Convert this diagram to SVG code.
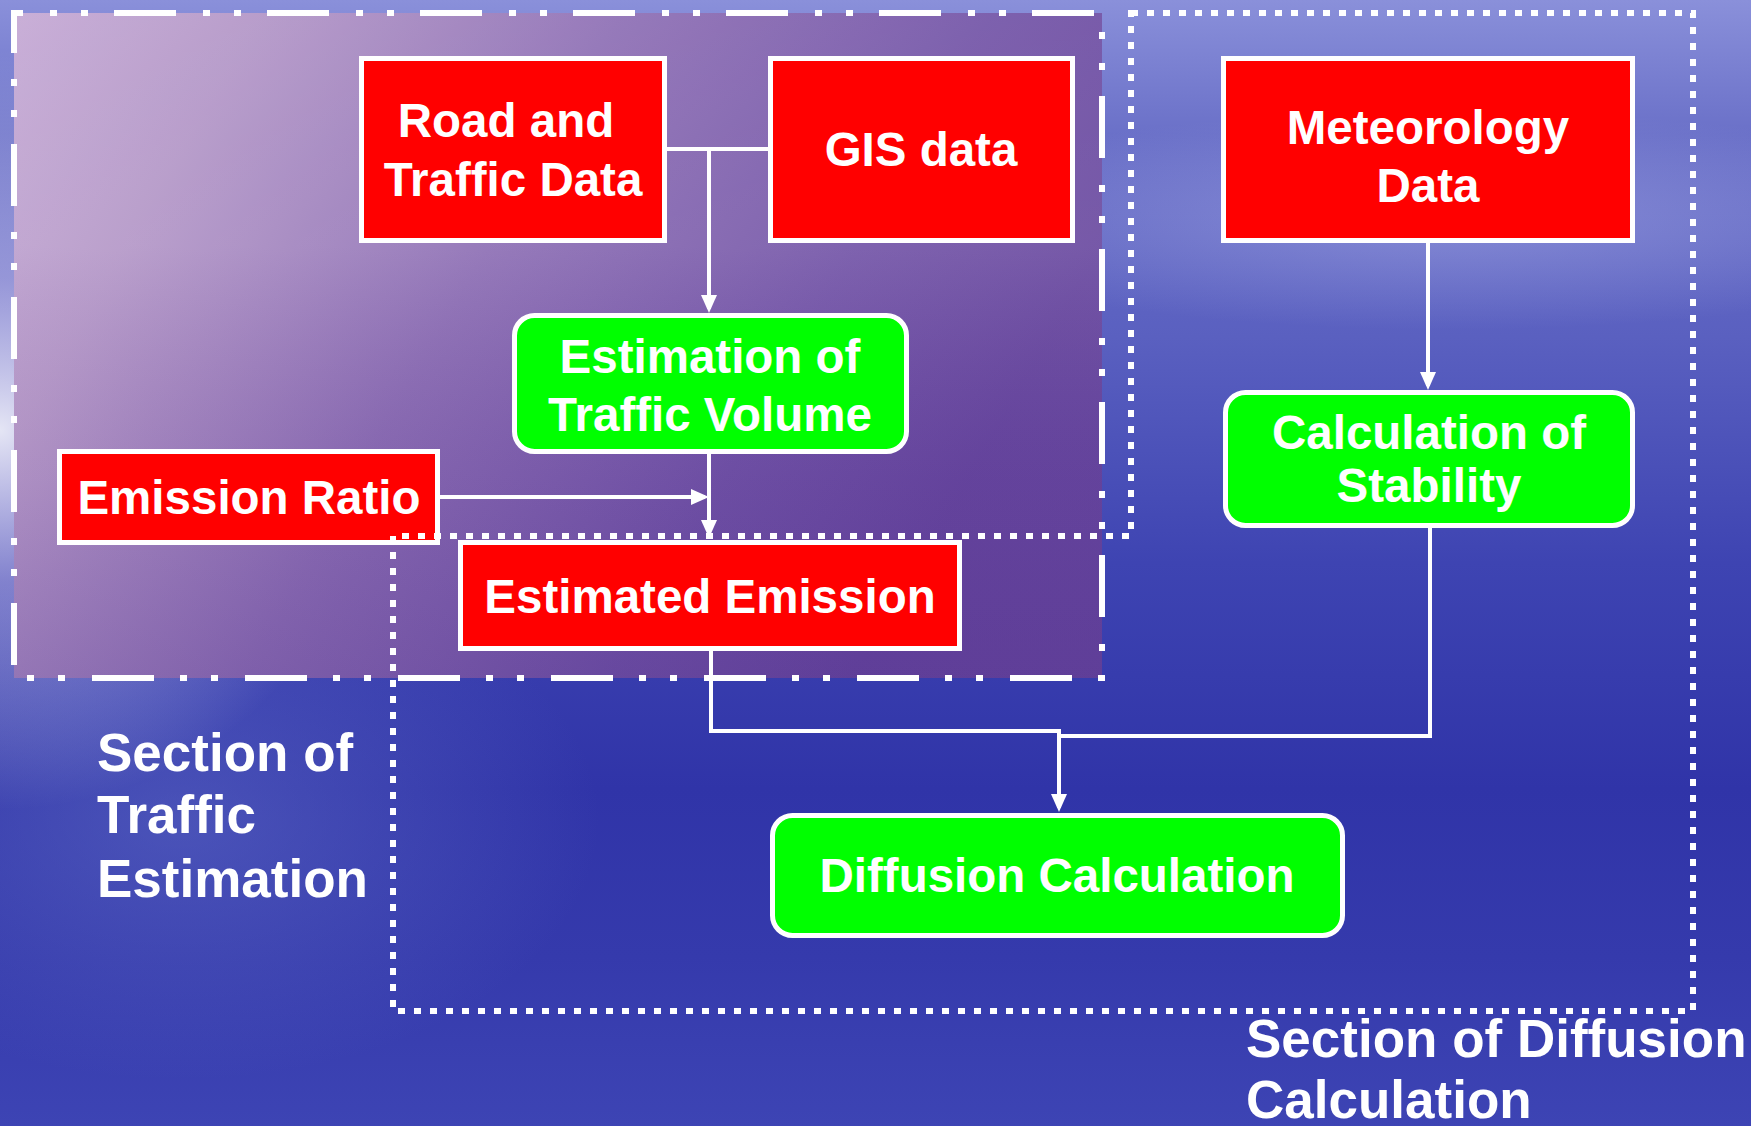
<svg xmlns="http://www.w3.org/2000/svg" width="1751" height="1126" viewBox="0 0 1751 1126">
<defs>
<linearGradient id="bg" x1="0" y1="0" x2="0" y2="1">
<stop offset="0" stop-color="#8a90da"/>
<stop offset="0.12" stop-color="#6a70c8"/>
<stop offset="0.3" stop-color="#5a60c0"/>
<stop offset="0.5" stop-color="#3e44b2"/>
<stop offset="0.7" stop-color="#3034a8"/>
<stop offset="0.85" stop-color="#353aac"/>
<stop offset="1" stop-color="#3d44b4"/>
</linearGradient>
<radialGradient id="glow" cx="0" cy="430" r="380" gradientUnits="userSpaceOnUse">
<stop offset="0" stop-color="#ffffff" stop-opacity="0.85"/>
<stop offset="0.4" stop-color="#e8e0f8" stop-opacity="0.4"/>
<stop offset="1" stop-color="#ffffff" stop-opacity="0"/>
</radialGradient>
<radialGradient id="band" cx="0.5" cy="0.5" r="0.5">
<stop offset="0" stop-color="#b0b4ea" stop-opacity="0.45"/>
<stop offset="1" stop-color="#b0b4ea" stop-opacity="0"/>
</radialGradient>
<radialGradient id="lowglow" cx="0.5" cy="0.5" r="0.5">
<stop offset="0" stop-color="#6a78cc" stop-opacity="0.45"/>
<stop offset="1" stop-color="#6a78cc" stop-opacity="0"/>
</radialGradient>
<linearGradient id="purple" x1="0" y1="0" x2="1" y2="0.35">
<stop offset="0" stop-color="#c8aad4"/>
<stop offset="0.2" stop-color="#b596c6"/>
<stop offset="0.5" stop-color="#8d6cb2"/>
<stop offset="0.8" stop-color="#7150a4"/>
<stop offset="1" stop-color="#67449c"/>
</linearGradient>
<linearGradient id="purpleShade" x1="0" y1="0" x2="0" y2="1">
<stop offset="0" stop-color="#ffffff" stop-opacity="0.08"/>
<stop offset="0.35" stop-color="#ffffff" stop-opacity="0.1"/>
<stop offset="0.7" stop-color="#402080" stop-opacity="0.05"/>
<stop offset="1" stop-color="#402080" stop-opacity="0.15"/>
</linearGradient>
<marker id="arr" markerUnits="userSpaceOnUse" markerWidth="18" markerHeight="16" refX="14" refY="8" orient="auto">
<path d="M0,0 L18,8 L0,16 z" fill="#ffffff"/>
</marker>
<style>
.box{stroke:#ffffff;stroke-width:5}
.red{fill:#ff0000}
.green{fill:#00ff00}
.nt{font-family:"Liberation Sans",Arial,sans-serif;font-weight:bold;font-size:47.5px;fill:#ffffff;text-anchor:middle}
.lbl{font-family:"Liberation Sans",Arial,sans-serif;font-weight:bold;font-size:53px;fill:#ffffff}
.conn{fill:none;stroke:#ffffff;stroke-width:4}
.dashdot{fill:none;stroke:#ffffff;stroke-width:6;stroke-dasharray:62 27 7 24 7 26;stroke-dashoffset:53}
.dotted{fill:none;stroke:#ffffff;stroke-width:6;stroke-dasharray:7 9}
</style>
</defs>

<g id="background">
<rect x="0" y="0" width="1751" height="1126" fill="url(#bg)"/>
<ellipse cx="1450" cy="220" rx="560" ry="110" fill="url(#band)"/>
<ellipse cx="180" cy="820" rx="420" ry="260" fill="url(#lowglow)"/>
<rect x="0" y="0" width="400" height="900" fill="url(#glow)"/>
</g>

<g id="traffic-section-fill">
<rect x="14" y="13" width="1088" height="665" fill="url(#purple)" opacity="0.95"/>
<rect x="14" y="13" width="1088" height="665" fill="url(#purpleShade)"/>
</g>

<g id="nodes">
<g id="road-traffic-data">
<rect class="box red" x="361.5" y="58.5" width="303" height="182"/>
<text class="nt" x="506" y="137">Road and</text>
<text class="nt" x="513" y="196">Traffic Data</text>
</g>
<g id="gis-data">
<rect class="box red" x="770.5" y="58.5" width="302" height="182"/>
<text class="nt" x="921" y="166">GIS data</text>
</g>
<g id="meteorology-data">
<rect class="box red" x="1223.5" y="58.5" width="409" height="182"/>
<text class="nt" x="1428" y="144">Meteorology</text>
<text class="nt" x="1428" y="202">Data</text>
</g>
<g id="estimation-traffic-volume">
<rect class="box green" x="514.5" y="315.5" width="392" height="136" rx="20" ry="20"/>
<text class="nt" x="710" y="373">Estimation of</text>
<text class="nt" x="710" y="431">Traffic Volume</text>
</g>
<g id="emission-ratio">
<rect class="box red" x="59.5" y="451.5" width="378" height="91"/>
<text class="nt" x="249" y="514">Emission Ratio</text>
</g>
<g id="estimated-emission">
<rect class="box red" x="460.5" y="542.5" width="499" height="106"/>
<text class="nt" x="710" y="613">Estimated Emission</text>
</g>
<g id="calculation-stability">
<rect class="box green" x="1225.5" y="392.5" width="407" height="133" rx="20" ry="20"/>
<text class="nt" x="1429" y="449">Calculation of</text>
<text class="nt" x="1429" y="502">Stability</text>
</g>
<g id="diffusion-calculation">
<rect class="box green" x="772.5" y="815.5" width="570" height="120" rx="20" ry="20"/>
<text class="nt" x="1057" y="892">Diffusion Calculation</text>
</g>
</g>

<g id="sections">
<path id="traffic-section" class="dashdot" d="M14,13 H1102 V678 H14 Z"/>
<path id="diffusion-section" class="dotted" d="M1131,13 H1693 V1011 H393 V536 H1131 Z"/>
<text class="lbl" x="97" y="771">Section of</text>
<text class="lbl" x="97" y="833">Traffic</text>
<text class="lbl" x="97" y="897">Estimation</text>
<text class="lbl" x="1246" y="1057">Section of Diffusion</text>
<text class="lbl" x="1246" y="1118">Calculation</text>
</g>

<g id="connectors">
<path class="conn" d="M667,149 H709 V309" marker-end="url(#arr)"/>
<path class="conn" d="M768,149 H709"/>
<path class="conn" d="M440,497 H705" marker-end="url(#arr)"/>
<path class="conn" d="M709,454 V534" marker-end="url(#arr)"/>
<path class="conn" d="M711,651 V731 H1059 V808" marker-end="url(#arr)"/>
<path class="conn" d="M1430,528 V736 H1059"/>
<path class="conn" d="M1428,243 V386" marker-end="url(#arr)"/>
</g>
</svg>
